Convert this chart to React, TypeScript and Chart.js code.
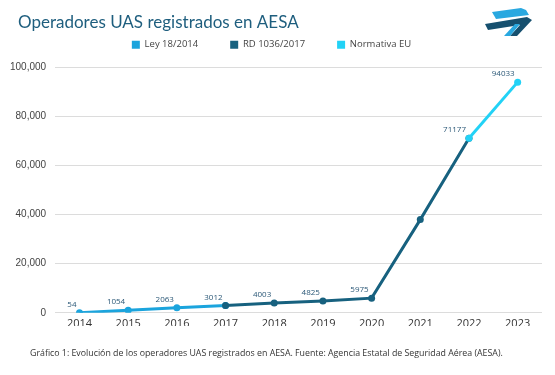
import React, { useEffect, useRef } from "react";
import { Chart, registerables } from "chart.js";

Chart.register(...registerables);

const years = ["2014", "2015", "2016", "2017", "2018", "2019", "2020", "2021", "2022", "2023"];
const leyValues = [54, 1054, 2063, 3012, null, null, null, null, null, null];
const rdValues = [null, null, null, 3012, 4003, 4825, 5975, 38000, 71177, null];
const euValues = [null, null, null, null, null, null, null, null, 71177, 94033];
const pointLabels = ["54", "1054", "2063", "3012", "4003", "4825", "5975", "", "71177", "94033"];
const seriesNames = ["Ley 18/2014", "RD 1036/2017", "Normativa EU"];
const yTicks = [0, 20000, 40000, 60000, 80000, 100000];
const titleText = "Operadores UAS registrados en AESA";
const captionText =
  "Gráfico 1: Evolución de los operadores UAS registrados en AESA. Fuente: Agencia Estatal de Seguridad Aérea (AESA).";

const colLey = "#1ba4dd";
const colRd = "#17617f";
const colEu = "#22d2f6";

const labelPlugin = {
  id: "pointLabels",
  afterDatasetsDraw(chart: any) {
    const { ctx } = chart;
    const xs = chart.scales.x;
    const ys = chart.scales.y;
    ctx.save();
    ctx.font = "8px 'Open Sans'";
    ctx.fillStyle = "#2b5877";
    ctx.textAlign = "right";
    ctx.textBaseline = "bottom";
    years.forEach((_, i) => {
      const txt = pointLabels[i];
      if (!txt) return;
      const v = [leyValues[i], rdValues[i], euValues[i]].find((d) => d !== null) as number;
      const px = xs.getPixelForValue(i);
      const py = ys.getPixelForValue(v);
      ctx.fillText(txt, px - 3, py - 4);
    });
    ctx.restore();
  },
};

const textPlugin = {
  id: "texts",
  afterDraw(chart: any) {
    const { ctx } = chart;
    ctx.save();
    ctx.fillStyle = "#1e5e7e";
    ctx.font = "17px Lato";
    ctx.textAlign = "left";
    ctx.textBaseline = "middle";
    ctx.fillText(titleText, 18, 23);
    ctx.fillStyle = "#333";
    ctx.font = "8.8px 'Open Sans'";
    ctx.fillText(captionText, 30, 353);
    ctx.restore();
  },
};

const legendGapPlugin = {
  id: "legendGap",
  beforeLayout(chart: any) {
    const lg = chart.legend;
    if (lg && !lg._gapPatched) {
      const orig = lg.fit.bind(lg);
      lg.fit = () => {
        orig();
        lg.height += 8;
      };
      lg._gapPatched = true;
    }
  },
};

const poly = (ctx: any, pts: number[][], color: string) => {
  ctx.fillStyle = color;
  ctx.beginPath();
  pts.forEach((p, i) => (i === 0 ? ctx.moveTo(p[0], p[1]) : ctx.lineTo(p[0], p[1])));
  ctx.closePath();
  ctx.fill();
};

const logoPlugin = {
  id: "logo",
  afterDraw(chart: any) {
    const { ctx } = chart;
    ctx.save();
    poly(ctx, [[492, 12], [521, 8], [526, 10], [529, 15], [496, 19]], "#29a8e0");
    poly(ctx, [[485, 24], [527, 17], [532, 20], [517, 36], [510, 36], [520, 25], [488, 30]], "#16506f");
    poly(ctx, [[504, 36], [515, 24], [520, 24], [510, 36]], "#29a8e0");
    ctx.restore();
  },
};

export default function App() {
  const ref = useRef<HTMLCanvasElement>(null);
  useEffect(() => {
    const c = new Chart(ref.current as HTMLCanvasElement, {
      type: "line",
      data: {
        labels: years,
        datasets: [
          { label: seriesNames[0], data: leyValues, borderColor: colLey, backgroundColor: colLey, order: 2 },
          { label: seriesNames[1], data: rdValues, borderColor: colRd, backgroundColor: colRd, order: 1 },
          { label: seriesNames[2], data: euValues, borderColor: colEu, backgroundColor: colEu, order: 0 },
        ],
      },
      options: {
        responsive: false,
        animation: false,
        layout: { padding: { left: 1, right: 13, top: 8, bottom: 49 } },
        elements: {
          line: { borderWidth: 3, tension: 0 },
          point: { radius: 3.5, hoverRadius: 3.5, borderWidth: 0 },
        },
        plugins: {
          title: { display: false },
          legend: {
            display: true,
            labels: {
              boxWidth: 8,
              boxHeight: 8,
              padding: 32,
              color: "#444",
              font: { family: "Open Sans", size: 9.5 },
              generateLabels: (chart: any) =>
                chart.data.datasets.map((d: any, i: number) => ({
                  text: d.label,
                  fillStyle: d.borderColor,
                  strokeStyle: d.borderColor,
                  lineWidth: 0,
                  datasetIndex: i,
                  fontColor: "#444",
                })),
            },
          },
          tooltip: { enabled: false },
        },
        scales: {
          x: {
            offset: true,
            grid: { display: false },
            border: { display: false },
            ticks: { color: "#333", font: { family: "Open Sans", size: 11 }, padding: -4 },
          },
          y: {
            min: 0,
            max: 100000,
            afterBuildTicks: (axis: any) => {
              axis.ticks = yTicks.map((v) => ({ value: v }));
            },
            grid: { color: "#dcdcdc", drawTicks: false },
            border: { display: false },
            ticks: {
              color: "#444",
              padding: 9,
              font: { family: "Liberation Sans", size: 10 },
              callback: (v: any) => Number(v).toLocaleString("en-US"),
            },
          },
        },
      },
      plugins: [labelPlugin, textPlugin, logoPlugin, legendGapPlugin],
    } as any);
    return () => c.destroy();
  }, []);
  return (
    <div style={{ position: "fixed", left: 0, top: 0, width: 555, height: 375, background: "#fff" }}>
      <canvas ref={ref} width={555} height={375} />
    </div>
  );
}
